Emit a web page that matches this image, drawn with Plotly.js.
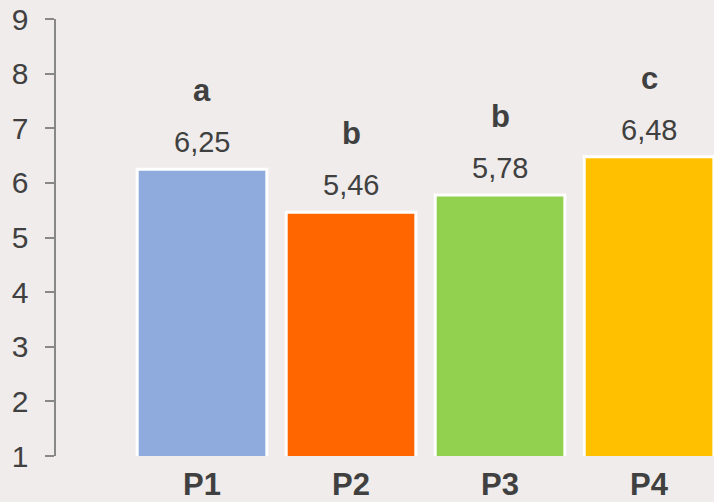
<!DOCTYPE html>
<html>
<head>
<meta charset="utf-8">
<script src="https://cdn.plot.ly/plotly-3.0.1.min.js"></script>
<style>html,body{margin:0;padding:0;background:#EFECEB;}#chart{width:714px;height:502px;}</style>
</head>
<body>
<div id="chart"></div>
<script>
var categories = ["P1", "P2", "P3", "P4"];
var values = [6.25, 5.46, 5.78, 6.48];
var letters = ["a", "b", "b", "c"];
var colors = ["#8FAADC", "#FF6600", "#92D050", "#FFC000"];
var yTicks = [1, 2, 3, 4, 5, 6, 7, 8, 9];

function fmt(v) { return v.toFixed(2).replace(".", ","); }

var FONT = "Liberation Sans, Arial, Helvetica, sans-serif";
var TXT = "#404040";

var annotations = [];
categories.forEach(function (c, i) {
  annotations.push({
    x: c, y: values[i], xref: "x", yref: "y",
    text: fmt(values[i]), showarrow: false,
    yanchor: "middle", yshift: 27,
    font: {family: FONT, size: 29, color: TXT}
  });
  annotations.push({
    x: c, y: values[i], xref: "x", yref: "y",
    text: "<b>" + letters[i] + "</b>", showarrow: false,
    yanchor: "bottom", yshift: 59,
    font: {family: FONT, size: 31, color: TXT}
  });
});

var trace = {
  type: "bar",
  x: categories,
  y: values,
  marker: {color: colors, line: {color: "#FFFFFF", width: 3}},
  hoverinfo: "none"
};

var layout = {
  width: 714, height: 502,
  margin: {l: 56, r: 0, t: 19, b: 46},
  paper_bgcolor: "#EFECEB",
  plot_bgcolor: "#EFECEB",
  showlegend: false,
  bargap: 0.13,
  font: {family: FONT, color: TXT},
  xaxis: {
    type: "category",
    range: [-0.98, 3.436],
    showline: false, showgrid: false, zeroline: false,
    ticks: "",
    tickfont: {family: FONT, size: 31, color: TXT, weight: "bold"},
    ticklabelstandoff: 7
  },
  yaxis: {
    range: [1, 9],
    tickvals: yTicks,
    ticktext: yTicks.map(String),
    showline: true, linecolor: "#888888", linewidth: 2.5,
    ticks: "outside", ticklen: 9, tickwidth: 2, tickcolor: "#888888",
    showgrid: false, zeroline: false,
    tickfont: {family: FONT, size: 30, color: TXT},
    ticklabelstandoff: 10
  },
  annotations: annotations
};

Plotly.newPlot("chart", [trace], layout, {staticPlot: true});
</script>
</body>
</html>
